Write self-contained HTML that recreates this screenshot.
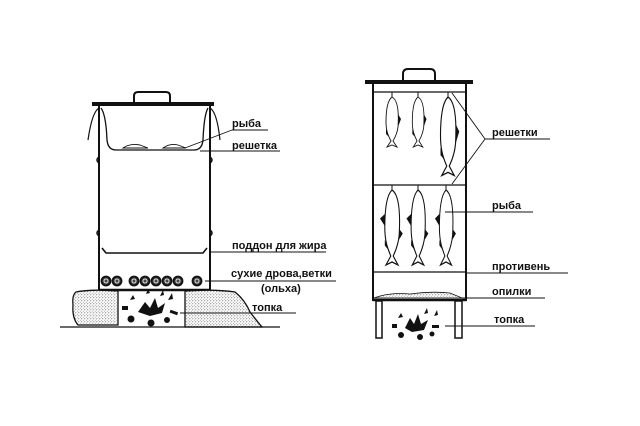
<!DOCTYPE html>
<html><head><meta charset="utf-8"><style>
html,body{margin:0;padding:0;background:#fff;}
svg{display:block}
text{font-family:"Liberation Sans",sans-serif;font-weight:bold;font-size:11px;fill:#111}
</style></head><body>
<svg width="640" height="426" viewBox="0 0 640 426" xmlns="http://www.w3.org/2000/svg">
<defs>
<pattern id="dots" width="3" height="3" patternUnits="userSpaceOnUse">
<rect width="3" height="3" fill="#fff"/><circle cx="0.8" cy="0.8" r="0.55" fill="#555"/><circle cx="2.3" cy="2.2" r="0.45" fill="#777"/>
</pattern>
<g id="fish">
<path d="M0,0 C6,3 7,15 6,30 C5,38 2,42 1,44 L5,50 L0,48 L-5,50 L-1,44 C-3,40 -6,35 -6,25 C-6,12 -4,3 0,0 Z" fill="#fff" stroke="#111" stroke-width="0.9"/>
<path d="M6,17 L9,22 L6,30 Z" fill="#111"/>
<path d="M-6,32 L-6,37 L-3,40 Z" fill="#111"/>
</g>
<g id="fish2">
<path d="M0,0 C6,3 7,15 6,30 C5,38 2,42 1,44 L5,50 L0,48 L-5,50 L-1,44 C-3,40 -6,35 -6,25 C-6,12 -4,3 0,0 Z" fill="#fff" stroke="#111" stroke-width="0.9"/>
<path d="M-6,16 L-10,19 L-6,24 Z" fill="#111"/>
<path d="M6,26 L9,29 L6,33 Z" fill="#111"/>
<path d="M-6,33 L-6,37 L-3,40 Z" fill="#111"/>
</g>
</defs>
<g stroke="#111" fill="none" stroke-width="2">
<rect x="92" y="102" width="122" height="4" fill="#111" stroke="none"/>
<path d="M134,102 L134,96 Q134,92 138,92 L166,92 Q170,92 170,96 L170,102" stroke-width="2"/>
<line x1="99" y1="106" x2="99" y2="290"/>
<line x1="210" y1="106" x2="210" y2="290"/>
<path d="M99,157 q-4,3 0,6 M99,230 q-4,3 0,6 M210,157 q4,3 0,6 M210,230 q4,3 0,6" stroke-width="1.5"/>
<path d="M99,108 Q92,112 88,140" stroke-width="1.2"/>
<path d="M210,108 Q217,112 220,140" stroke-width="1.2"/>
<path d="M101,108 Q106,115 107,140 Q108,150 116,150 L194,150 Q202,150 203,140 Q204,115 208,108" stroke-width="1.3"/>
<path d="M123,148 Q130,143 140,145 L148,148 Z M163,148 Q170,143 178,145 L186,148 Z" stroke-width="0.9"/>
<path d="M102,248 L106,253 L203,253 L207,248" stroke-width="1.6"/>
<line x1="99" y1="290" x2="210" y2="290" stroke-width="2.5"/>
</g>
<g stroke="#111" fill="#444" stroke-width="1.8">
<circle cx="106" cy="281" r="4.5"/><circle cx="117" cy="281" r="4.5"/>
<circle cx="134" cy="281" r="4.5"/><circle cx="145" cy="281" r="4.5"/>
<circle cx="156" cy="281" r="4.5"/><circle cx="167" cy="281" r="4.5"/>
<circle cx="178" cy="281" r="4.5"/><circle cx="197" cy="281" r="4.5"/>
</g>
<g stroke="#fff" fill="none" stroke-width="0.8">
<circle cx="106" cy="281" r="2"/><circle cx="117" cy="281" r="2"/><circle cx="134" cy="281" r="2"/><circle cx="145" cy="281" r="2"/>
<circle cx="156" cy="281" r="2"/><circle cx="167" cy="281" r="2"/><circle cx="178" cy="281" r="2"/><circle cx="197" cy="281" r="2"/>
</g>
<path d="M76,292 Q90,289 118,291 L118,325 L78,325 Q72,318 73,305 Q72,295 76,292 Z" fill="url(#dots)" stroke="#111" stroke-width="1.3"/>
<path d="M185,291 Q215,289 235,292 Q245,300 250,312 Q256,320 262,327 L185,327 Z" fill="url(#dots)" stroke="#111" stroke-width="1.3"/>
<path d="M60,327 L280,327" stroke="#111" stroke-width="1.2"/>
<g fill="#111">
<path d="M138,312 L145,302 L150,308 L155,298 L158,308 L165,303 L162,313 L150,316 Z"/>
<path d="M130,300 l3,-5 l2,4 Z M160,296 l3,-6 l1,5 Z M168,300 l4,-7 l1,6 Z M146,294 l2,-5 l2,4 Z"/>
<circle cx="131" cy="319" r="3.5"/><circle cx="151" cy="323" r="3.5"/><circle cx="167" cy="320" r="3"/>
<rect x="122" y="306" width="6" height="4"/><rect x="170" y="311" width="8" height="3" transform="rotate(20 174 312)"/>
</g>
<g stroke="#111" stroke-width="0.9">
<line x1="232" y1="130" x2="268" y2="130"/>
<line x1="232" y1="130" x2="185" y2="148"/>
<line x1="200" y1="151" x2="280" y2="151"/>
<line x1="210" y1="252" x2="326" y2="252"/>
<line x1="205" y1="281" x2="336" y2="281"/>
<line x1="180" y1="313" x2="296" y2="313"/>
</g>
<text x="232" y="127">рыба</text>
<text x="232" y="149">решетка</text>
<text x="232" y="249">поддон для жира</text>
<text x="231" y="277">сухие дрова,ветки</text>
<text x="261" y="292">(ольха)</text>
<text x="252" y="311">топка</text>

<g stroke="#111" fill="none" stroke-width="2">
<rect x="365" y="80" width="108" height="4" fill="#111" stroke="none"/>
<path d="M403,80 L403,74 Q403,69 408,69 L430,69 Q435,69 435,74 L435,80"/>
<line x1="373" y1="84" x2="373" y2="301"/>
<line x1="466" y1="84" x2="466" y2="301"/>
<line x1="373" y1="300" x2="466" y2="300" stroke-width="2.5"/>
<line x1="373" y1="92" x2="466" y2="92" stroke-width="1.3"/>
<line x1="373" y1="185" x2="466" y2="185" stroke-width="1.3"/>
<line x1="373" y1="272" x2="466" y2="272" stroke-width="1.3"/>
<rect x="376" y="301" width="6" height="37" stroke-width="1.5"/>
<rect x="455" y="301" width="7" height="37" stroke-width="1.5"/>
</g>
<path d="M374,298 Q390,292 410,294 Q430,291 450,293 L462,298 Z" fill="url(#dots)" stroke="#111" stroke-width="0.8"/>
<g stroke="#111" stroke-width="1">
<line x1="392" y1="92" x2="392" y2="98"/><line x1="418" y1="92" x2="418" y2="98"/><line x1="448" y1="92" x2="448" y2="98"/>
<line x1="392" y1="185" x2="392" y2="191"/><line x1="418" y1="185" x2="418" y2="191"/><line x1="446" y1="185" x2="446" y2="191"/>
</g>
<use href="#fish" transform="translate(392,97) scale(1,1)"/>
<use href="#fish" transform="translate(418,97) scale(0.95,1)"/>
<use href="#fish" transform="translate(448,97) scale(1.25,1.57)"/>
<use href="#fish2" transform="translate(392,190) scale(1.2,1.5)"/>
<use href="#fish2" transform="translate(418,190) scale(1.15,1.5)"/>
<use href="#fish2" transform="translate(446,190) scale(1.1,1.5)"/>
<g fill="#111">
<path d="M405,328 L410,318 L414,324 L418,314 L421,324 L428,320 L424,330 L412,332 Z"/>
<path d="M398,318 l3,-5 l2,4 Z M424,314 l3,-6 l1,5 Z M434,316 l3,-6 l1,5 Z"/>
<circle cx="401" cy="335" r="3"/><circle cx="420" cy="337" r="3"/><circle cx="432" cy="334" r="2.5"/>
<rect x="392" y="324" width="5" height="4"/><rect x="432" y="325" width="7" height="3"/>
</g>
<g stroke="#111" stroke-width="0.9">
<line x1="485" y1="139" x2="550" y2="139"/>
<line x1="485" y1="139" x2="452" y2="93"/>
<line x1="485" y1="139" x2="452" y2="184"/>
<line x1="445" y1="212" x2="533" y2="212"/>
<line x1="466" y1="273" x2="568" y2="273"/>
<line x1="462" y1="298" x2="545" y2="298"/>
<line x1="445" y1="326" x2="535" y2="326"/>
</g>
<text x="492" y="136">решетки</text>
<text x="492" y="209">рыба</text>
<text x="492" y="270">противень</text>
<text x="492" y="295">опилки</text>
<text x="494" y="323">топка</text>
</svg>
</body></html>
